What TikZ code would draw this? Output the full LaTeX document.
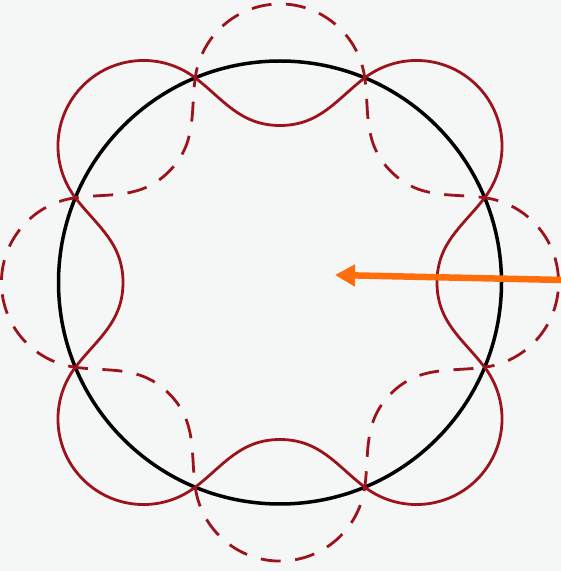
\documentclass[tikz,border=0pt]{standalone}
\usetikzlibrary{arrows.meta}
\definecolor{bgpaper}{RGB}{245,246,246}
\definecolor{wavered}{RGB}{155,20,28}
\definecolor{arroworange}{RGB}{255,110,10}
\tikzset{
  orbit/.style={draw=black, line width=3.5pt},
  wavesolid/.style={draw=wavered, line width=2.8pt, line join=round},
  wavedashed/.style={draw=wavered, line width=2.8pt, dash pattern=on 20pt off 14.5pt, dash phase=10pt},
  pointer/.style={draw=arroworange, line width=6.5pt, -{Triangle[length=20pt,width=21pt]}}
}
\begin{document}
\begin{tikzpicture}[x=1pt,y=1pt]
\fill[bgpaper] (0,0) rectangle (561,571);
\useasboundingbox (0,0) rectangle (561,571);
\begin{scope}[shift={(280,288.5)}]
  % orbit circle
  \draw[orbit] (0,0) circle[radius=221.5];
  % solid standing wave: inner dips at 0,90,180,270; outer lobes at 45,135,...
  \draw[wavesolid] (-22.5:221.5)
    \foreach \a in {0,90,180,270}{
      .. controls ({\a-17.23}:192.1) and ({\a-14.29}:162) .. (\a:157)
      .. controls ({\a+14.29}:162) and ({\a+17.23}:192.1) .. ({\a+22.5}:221.5)
      arc[start angle={\a+45-82.18}, end angle={\a+45+82.18}, radius=85.57]
    } -- cycle;
  % dashed standing wave: outer lobes at 0,90,...; inner dips at 45,135,...
  \draw[wavedashed] (-22.5:221.5)
    \foreach \a in {0,90,180,270}{
      arc[start angle={\a-82.18}, end angle={\a+82.18}, radius=85.57]
      .. controls ({\a+45-17.23}:192.1) and ({\a+45-14.29}:162) .. ({\a+45}:157)
      .. controls ({\a+45+14.29}:162) and ({\a+45+17.23}:192.1) .. ({\a+67.5}:221.5)
    };
\end{scope}
% arrow
\coordinate (arrowstart) at (563,291);
\coordinate (arrowtip) at (335,296);
\draw[pointer] (arrowstart) -- (arrowtip);
\end{tikzpicture}
\end{document}
